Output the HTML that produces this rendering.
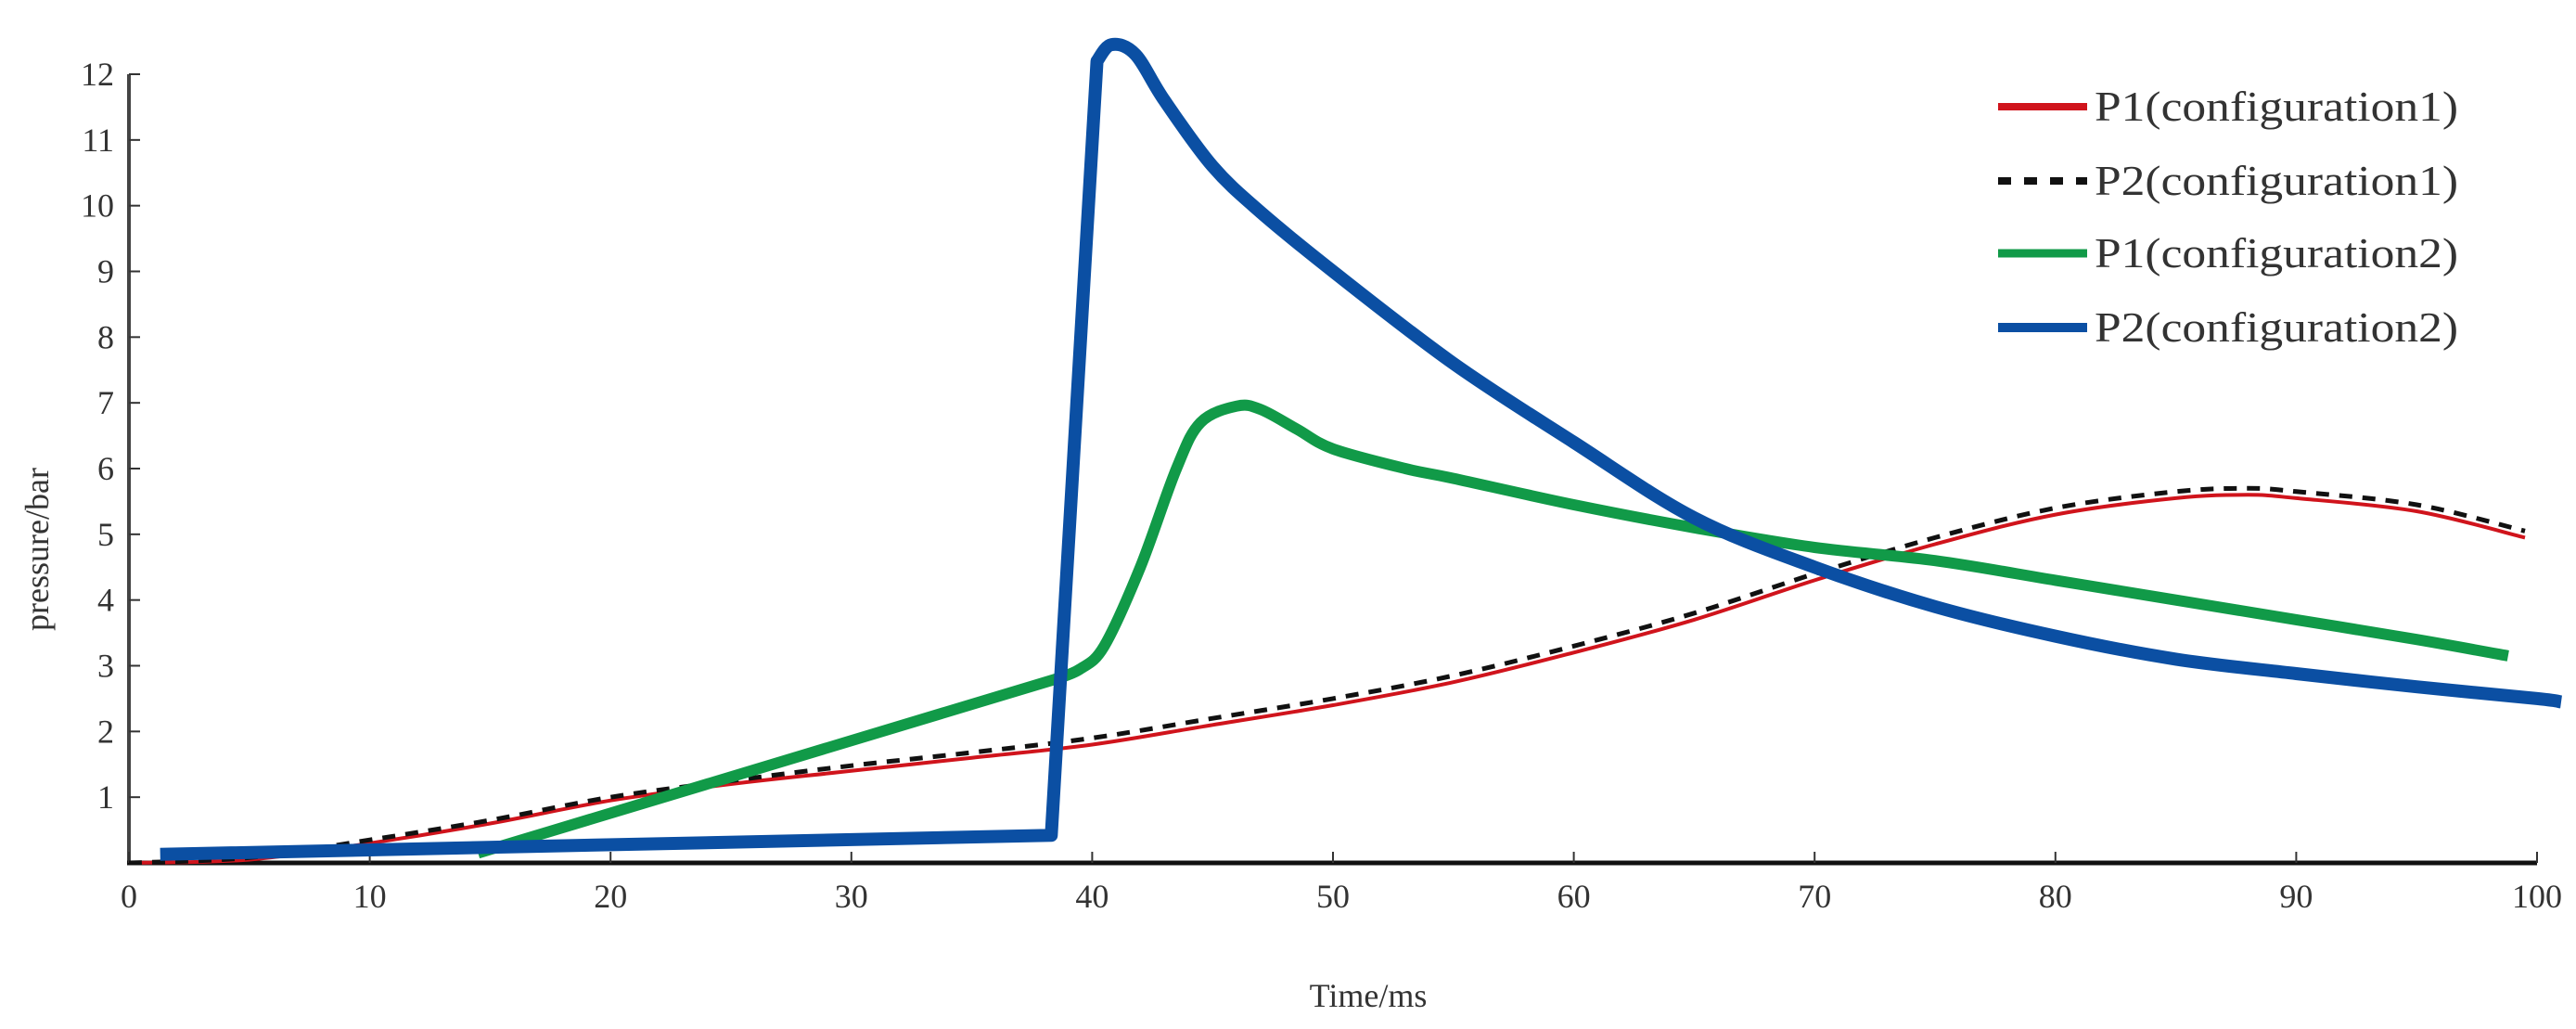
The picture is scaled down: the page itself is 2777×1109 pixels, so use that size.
<!DOCTYPE html>
<html><head><meta charset="utf-8"><style>
html,body{margin:0;padding:0;background:#fff;}
svg{display:block;}
text{font-family:"Liberation Serif",serif;fill:#333;}
</style></head><body>
<svg id="chart" width="2777" height="1109" viewBox="0 0 2777 1109">
<g id="axes"></g>
<g id="series"></g>
<g id="legend"></g>
<text x="1475" y="1085" font-size="36" text-anchor="middle">Time/ms</text>
<text transform="translate(52,592) rotate(-90)" font-size="36" text-anchor="middle">pressure/bar</text>
</svg>
<script>
const xTicks=[0,10,20,30,40,50,60,70,80,90,100];
const yTicks=[1,2,3,4,5,6,7,8,9,10,11,12];
const redT=[0,5,10,15,20,25,30,35,40,45,50,55,60,65,70,75,80,85,88,90,95,99.5];
const redV=[0,0.05,0.3,0.6,0.95,1.2,1.4,1.6,1.8,2.1,2.4,2.75,3.2,3.7,4.3,4.85,5.3,5.55,5.6,5.55,5.35,4.95];
const blackT=[0,5,10,15,20,25,30,35,40,45,50,55,60,65,70,75,80,85,88,90,95,99.5];
const blackV=[0,0.08,0.35,0.65,1.0,1.25,1.48,1.68,1.9,2.2,2.5,2.85,3.3,3.8,4.4,4.95,5.4,5.65,5.7,5.65,5.45,5.05];
const greenT=[14.5,38.5,39.5,40.5,42,43.5,44.5,46,47,48.5,50,53,55,60,65,70,75,80,85,90,95,98.8];
const greenV=[0.15,2.8,2.95,3.3,4.5,6.0,6.7,6.95,6.9,6.6,6.3,6.0,5.85,5.45,5.1,4.8,4.6,4.3,4.0,3.7,3.4,3.15];
const blueT=[1.3,38.3,40.2,40.8,41.8,43,45,47,50,55,60,65,70,75,80,85,90,95,100,101];
const blueV=[0.13,0.42,12.2,12.45,12.3,11.6,10.6,9.9,9.0,7.6,6.4,5.25,4.5,3.9,3.45,3.1,2.88,2.68,2.5,2.45];

const NS="http://www.w3.org/2000/svg";
const X0=139,X1=2735,Y0=930,YTOP=80;
function xs(t){return X0+(X1-X0)*t/100;}
function ys(v){return Y0-(Y0-YTOP)*v/12;}
function mk(tag,attrs,parent){const e=document.createElementNS(NS,tag);for(const k in attrs)e.setAttribute(k,attrs[k]);parent.appendChild(e);return e;}
const axes=document.getElementById('axes');
let yl=mk('line',{x1:X0,y1:YTOP,x2:X0,y2:Y0,stroke:'#444','stroke-width':4},axes);


let xl=mk('line',{x1:X0-2,y1:Y0,x2:X1,y2:Y0,stroke:'#111','stroke-width':5},axes);


yTicks.forEach(v=>{
  const tk=mk('line',{x1:X0,y1:ys(v),x2:X0+12,y2:ys(v),stroke:'#333','stroke-width':2},axes);
  
  
  const tx=mk('text',{x:X0-16,y:ys(v)+12,'font-size':36,'text-anchor':'end'},axes);
  tx.textContent=v;
  
  
});
xTicks.forEach(t=>{
  const tk=mk('line',{x1:xs(t),y1:Y0,x2:xs(t),y2:Y0-12,stroke:'#333','stroke-width':2},axes);
  
  
  const tx=mk('text',{x:xs(t),y:978,'font-size':36,'text-anchor':'middle'},axes);
  tx.textContent=t;
  
  
});
const ser=document.getElementById('series');
function pathD(T,V,sharp){
  const P=T.map((t,i)=>[xs(t),ys(V[i])]);
  let d='M'+P[0][0].toFixed(1)+','+P[0][1].toFixed(1);
  for(let i=0;i<P.length-1;i++){
    if(i<sharp){d+=' L'+P[i+1][0].toFixed(1)+','+P[i+1][1].toFixed(1);continue;}
    const p0=P[Math.max(i-1,sharp)],p1=P[i],p2=P[i+1],p3=P[Math.min(i+2,P.length-1)];
    const c1=[p1[0]+(p2[0]-p0[0])/6,p1[1]+(p2[1]-p0[1])/6];
    const c2=[p2[0]-(p3[0]-p1[0])/6,p2[1]-(p3[1]-p1[1])/6];
    d+=' C'+c1[0].toFixed(1)+','+c1[1].toFixed(1)+' '+c2[0].toFixed(1)+','+c2[1].toFixed(1)+' '+p2[0].toFixed(1)+','+p2[1].toFixed(1);
  }
  return d;
}
function line(T,V,color,w,dash,name,sharp){
  const a={d:pathD(T,V,sharp),fill:'none',stroke:color,'stroke-width':w,'stroke-linejoin':'round','stroke-linecap':'butt'};
  if(dash)a['stroke-dasharray']=dash;
  const p=mk('path',a,ser);
  
  
}
line(redT,redV,'#d0141c',4,null,'series-p1-config1',0);
line(blackT,blackV,'#111',5,'14,11','series-p2-config1',0);
line(greenT,greenV,'#119a48',12,null,'series-p1-config2',1);
line(blueT,blueV,'#0b4fa3',14,null,'series-p2-config2',2);
const leg=document.getElementById('legend');
const items=[['P1(configuration1)','#d0141c',8,null],['P2(configuration1)','#111',8,'14,14'],['P1(configuration2)','#119a48',9,null],['P2(configuration2)','#0b4fa3',10,null]];
const rows=[115,195,273,353];
items.forEach((it,i)=>{
  const l=mk('line',{x1:2154,y1:rows[i],x2:2250,y2:rows[i],stroke:it[1],'stroke-width':it[2]},leg);
  if(it[3])l.setAttribute('stroke-dasharray',it[3]);
  
  
  const t=mk('text',{x:2258,y:rows[i]+15,'font-size':46,textLength:392,lengthAdjust:'spacingAndGlyphs'},leg);
  t.textContent=it[0];
  
  
});
</script>
</body></html>
